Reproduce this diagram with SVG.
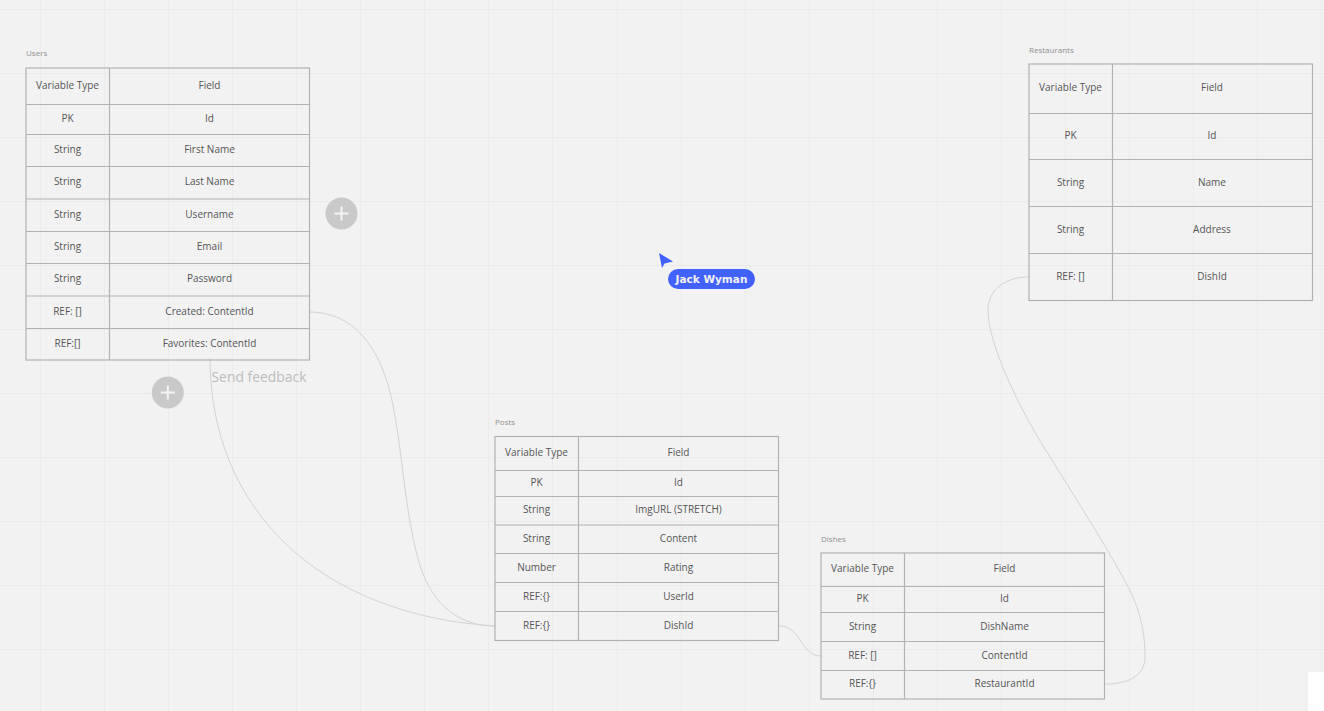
<svg xmlns="http://www.w3.org/2000/svg" width="1324" height="711" viewBox="0 0 1324 711">
<defs>
<style>
.g{stroke:#ebebeb;stroke-width:1;fill:none}
.b{fill:none;stroke:#b2b2b2;stroke-width:1.2}
.c{fill:none;stroke:#d3d3d3;stroke-width:1}
text{font-family:"Open Sans","Noto Sans",sans-serif}
.t{font-size:10px;fill:#555;text-anchor:middle}
.l{font-size:8px;fill:#909090}
</style>
</defs>
<rect width="1324" height="711" fill="#f2f2f2"/>
<g id="grid">
<path class="g" d="M40.500 0V711M104.500 0V711M168.500 0V711M232.500 0V711M296.500 0V711M360.500 0V711M424.500 0V711M488.500 0V711M552.500 0V711M617.500 0V711M681.500 0V711M745.500 0V711M809.500 0V711M873.500 0V711M937.500 0V711M1001.500 0V711M1065.500 0V711M1129.500 0V711M1193.500 0V711M1257.500 0V711M1321.500 0V711"/>
<path class="g" d="M0 9.500H1324M0 73.500H1324M0 137.500H1324M0 201.500H1324M0 265.500H1324M0 329.500H1324M0 393.500H1324M0 457.500H1324M0 521.500H1324M0 585.500H1324M0 649.500H1324"/>
</g>
<g id="connectors">
<path class="c" d="M310 312C352 312 381 345 393 405C402 450 405 510 417 555C428 600 455 626 495 626"/>
<path class="c" d="M210 358C210 510 320 615 495 626"/>
<path class="c" d="M779 626C802 626 800 656 821 656"/>
<path class="c" d="M1029 277C1005 277 988 290 988 310C988 345 1020 410 1050 457C1080 505 1118 565 1133 597C1143 620 1145 640 1145 657C1145 675 1130 684 1105 684"/>
</g>
<g id="users">
<text class="l" x="26" y="56">Users</text>
<rect class="b" x="26" y="68" width="283.500" height="292"/>
<path class="b" d="M109.500 68V360M26 104.500H309.500M26 134.500H309.500M26 166.500H309.500M26 199H309.500M26 231.500H309.500M26 263.500H309.500M26 296H309.500M26 328.500H309.500"/>
<text class="t" x="67.500" y="89">Variable Type</text><text class="t" x="209.500" y="89">Field</text>
<text class="t" x="67.500" y="122">PK</text><text class="t" x="209.500" y="122">Id</text>
<text class="t" x="67.500" y="153">String</text><text class="t" x="209.500" y="153">First Name</text>
<text class="t" x="67.500" y="185">String</text><text class="t" x="209.500" y="185">Last Name</text>
<text class="t" x="67.500" y="218">String</text><text class="t" x="209.500" y="218">Username</text>
<text class="t" x="67.500" y="250">String</text><text class="t" x="209.500" y="250">Email</text>
<text class="t" x="67.500" y="282">String</text><text class="t" x="209.500" y="282">Password</text>
<text class="t" x="67.500" y="315">REF: []</text><text class="t" x="209.500" y="315">Created: ContentId</text>
<text class="t" x="67.500" y="347">REF:[]</text><text class="t" x="209.500" y="347">Favorites: ContentId</text>
</g>
<g id="restaurants">
<text class="l" x="1029" y="53">Restaurants</text>
<rect class="b" x="1029" y="64" width="283.500" height="236.500"/>
<path class="b" d="M1112.500 64V300.500M1029 113.500H1312.500M1029 159.500H1312.500M1029 206.500H1312.500M1029 253.500H1312.500"/>
<text class="t" x="1070.500" y="91">Variable Type</text><text class="t" x="1212" y="91">Field</text>
<text class="t" x="1070.500" y="139">PK</text><text class="t" x="1212" y="139">Id</text>
<text class="t" x="1070.500" y="186">String</text><text class="t" x="1212" y="186">Name</text>
<text class="t" x="1070.500" y="233">String</text><text class="t" x="1212" y="233">Address</text>
<text class="t" x="1070.500" y="280">REF: []</text><text class="t" x="1212" y="280">DishId</text>
</g>
<g id="posts">
<text class="l" x="495" y="425">Posts</text>
<rect class="b" x="495" y="436.500" width="283.500" height="204"/>
<path class="b" d="M578.500 436.500V640.500M495 470.500H778.500M495 496.500H778.500M495 525H778.500M495 553.500H778.500M495 582.500H778.500M495 611.500H778.500"/>
<text class="t" x="536.500" y="456">Variable Type</text><text class="t" x="678.500" y="456">Field</text>
<text class="t" x="536.500" y="486">PK</text><text class="t" x="678.500" y="486">Id</text>
<text class="t" x="536.500" y="513">String</text><text class="t" x="678.500" y="513">ImgURL (STRETCH)</text>
<text class="t" x="536.500" y="542">String</text><text class="t" x="678.500" y="542">Content</text>
<text class="t" x="536.500" y="571">Number</text><text class="t" x="678.500" y="571">Rating</text>
<text class="t" x="536.500" y="600">REF:{}</text><text class="t" x="678.500" y="600">UserId</text>
<text class="t" x="536.500" y="629">REF:{}</text><text class="t" x="678.500" y="629">DishId</text>
</g>
<g id="dishes">
<text class="l" x="821" y="542">Dishes</text>
<rect class="b" x="821" y="553" width="283.500" height="146"/>
<path class="b" d="M904.500 553V699M821 586.500H1104.500M821 612.500H1104.500M821 641.500H1104.500M821 670.500H1104.500"/>
<text class="t" x="862.500" y="572">Variable Type</text><text class="t" x="1004.500" y="572">Field</text>
<text class="t" x="862.500" y="602">PK</text><text class="t" x="1004.500" y="602">Id</text>
<text class="t" x="862.500" y="630">String</text><text class="t" x="1004.500" y="630">DishName</text>
<text class="t" x="862.500" y="659">REF: []</text><text class="t" x="1004.500" y="659">ContentId</text>
<text class="t" x="862.500" y="687">REF:{}</text><text class="t" x="1004.500" y="687">RestaurantId</text>
</g>
<g id="add-right">
<circle cx="341.500" cy="213.500" r="16" fill="#c9c9c9"/>
<path d="M341.500 206.500V220.500M334.500 213.500H348.500" stroke="#f5f5f5" stroke-width="2" fill="none"/>
</g>
<g id="add-bottom">
<circle cx="167.800" cy="392.500" r="16" fill="#c9c9c9"/>
<path d="M167.800 385.500V399.500M160.800 392.500H174.800" stroke="#f5f5f5" stroke-width="2" fill="none"/>
</g>
<text id="feedback" x="211.500" y="382" font-size="13.900" fill="#bdbdbd">Send feedback</text>
<g id="cursor">
<path d="M659 253L673 261.500L664.500 263.500L662 268Z" fill="#4262ff"/>
<rect x="668" y="269" width="87" height="20" rx="10" fill="#4262ff"/>
<text x="711.500" y="283" font-size="10.500" font-weight="700" fill="#f2f2f2" text-anchor="middle" style="font-family:'DejaVu Sans',sans-serif">Jack Wyman</text>
</g>
<rect id="corner" x="1308" y="672" width="16" height="39" fill="#fff"/>
</svg>
